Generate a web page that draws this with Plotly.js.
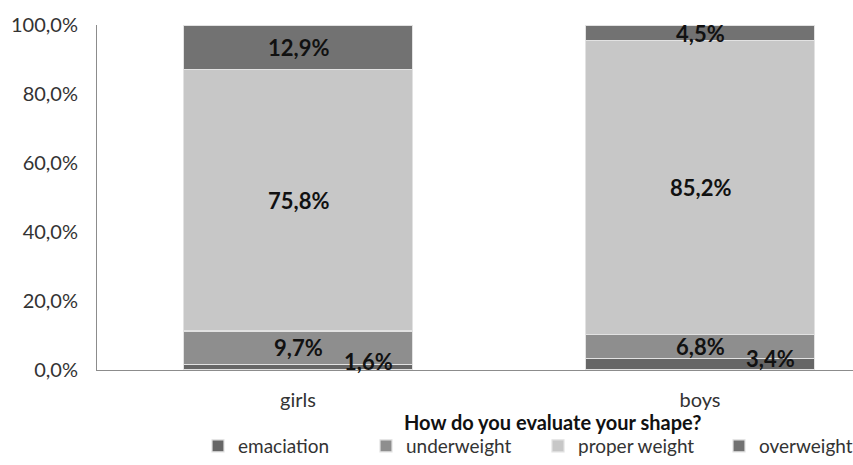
<!DOCTYPE html>
<html>
<head>
<meta charset="utf-8">
<script src="https://cdn.plot.ly/plotly-3.0.1.min.js"></script>
<style>html,body{margin:0;padding:0;background:#fff;}#chart{width:853px;height:465px;}</style>
</head>
<body>
<div id="chart"></div>
<script>
const categories = ['girls', 'boys'];
const seriesNames = ['emaciation', 'underweight', 'proper weight', 'overweight'];
const emaciation = [1.6, 3.4];
const underweight = [9.7, 6.8];
const properWeight = [75.8, 85.2];
const overweight = [12.9, 4.5];
const yTickVals = [0, 20, 40, 60, 80, 100];
const yTickText = ['0,0%', '20,0%', '40,0%', '60,0%', '80,0%', '100,0%'];
const xTitle = 'How do you evaluate your shape?';

const seriesValues = [emaciation, underweight, properWeight, overweight];
const colors = ['#666666', '#8e8e8e', '#c7c7c7', '#727272'];
const legendPx = [198, 366, 538, 719];
const fontFam = 'Lato, "Open Sans", sans-serif';
const legendIds = ['legend', 'legend2', 'legend3', 'legend4'];

const traces = seriesValues.map((vals, i) => ({
  type: 'bar',
  name: seriesNames[i],
  x: categories,
  y: vals,
  width: 0.57,
  legend: legendIds[i],
  marker: { color: colors[i], line: { color: '#e2e2e2', width: 1.2 } },
  hoverinfo: 'none'
}));

const fmt = v => v.toFixed(1).replace('.', ',') + '%';
const annotations = [];
categories.forEach((cat, ci) => {
  let base = 0;
  seriesValues.forEach((vals, si) => {
    const v = vals[ci];
    const mid = base + v / 2;
    const small = v < 4 && si === 0;
    annotations.push({
      x: cat, y: mid, xref: 'x', yref: 'y',
      text: fmt(v), showarrow: false,
      xshift: small ? 70 : 0, yshift: small ? 6 : 0,
      font: { family: fontFam, size: 22, color: '#111', weight: 'bold' }
    });
    base += v;
  });
});
annotations.push({
  x: 0.603, y: 0, xref: 'paper', yref: 'paper', yshift: -52, yanchor: 'middle',
  text: '<b>' + xTitle + '</b>', showarrow: false,
  font: { family: fontFam, size: 20, color: '#111' }
});

const layout = {
  width: 853, height: 465,
  margin: { l: 97, r: 0, t: 25, b: 95 },
  paper_bgcolor: '#fff', plot_bgcolor: '#fff',
  barmode: 'stack',
  showlegend: true,
  xaxis: {
    type: 'category', range: [-0.5, 1.3806],
    showline: true, linecolor: '#8c8c8c', linewidth: 1,
    ticks: '', showgrid: false, zeroline: false,
    tickfont: { family: fontFam, size: 20, color: '#333' }, ticklabelstandoff: 12
  },
  yaxis: {
    range: [0, 100], tickvals: yTickVals, ticktext: yTickText,
    showline: true, linecolor: '#8c8c8c', linewidth: 1,
    ticks: '', showgrid: false, zeroline: false,
    tickfont: { family: fontFam, size: 20, color: '#333' }, ticklabelstandoff: 14
  },
  annotations: annotations
};
legendIds.forEach((id, i) => {
  layout[id] = {
    orientation: 'h', xref: 'container', yref: 'container',
    x: legendPx[i] / 853, xanchor: 'left', y: -0.018, yanchor: 'bottom',
    bgcolor: 'rgba(0,0,0,0)', itemwidth: 30,
    font: { family: fontFam, size: 19, color: '#333' }
  };
});
Plotly.newPlot('chart', traces, layout, { displayModeBar: false, staticPlot: true });
</script>
</body>
</html>
